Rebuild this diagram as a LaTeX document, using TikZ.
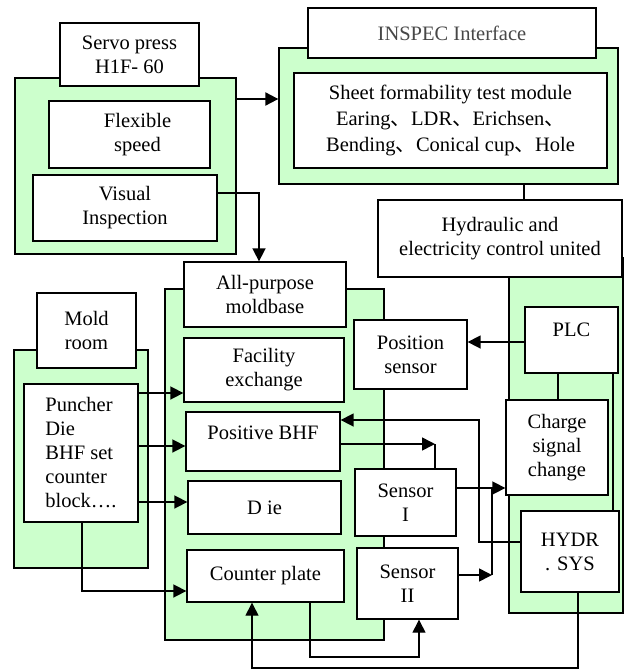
\documentclass[tikz,border=0pt]{standalone}
\usepackage{fontspec}
\setmainfont{Liberation Serif}
\newfontfamily\cjkfont{Noto Sans CJK SC}
\usetikzlibrary{arrows.meta}
\newcommand\dun{{\cjkfont 、}}
\definecolor{panelgreen}{HTML}{CCFFCC}
\tikzset{
  panel/.style={draw, fill=panelgreen, line width=1.3pt, inner sep=0pt},
  box/.style={draw, fill=white, line width=1.3pt, inner sep=0pt, align=center},
  arr/.style={-{Triangle[length=13pt,width=13pt]}, line width=1.6pt},
  link/.style={line width=1.1pt},
}
\begin{document}
\begin{tikzpicture}[x=1pt, y=-1pt, font=\fontsize{20.5}{24}\selectfont]
\useasboundingbox (0,0) rectangle (624,670);
% green panels
\node[panel, minimum width=221pt, minimum height=176pt] (servoG) at (125.5,166) {};
\node[panel, minimum width=339pt, minimum height=136pt] (inspG) at (448.5,116) {};
\node[panel, minimum width=134pt, minimum height=218pt] (moldG) at (81,459) {};
\node[panel, minimum width=219pt, minimum height=351pt] (midG) at (274.5,464.5) {};
\node[panel, minimum width=114pt, minimum height=355pt] (rightG) at (566,435.5) {};
% white boxes
\node[box, minimum width=139pt, minimum height=63pt] (servoT) at (129.5,54.5) {Servo press\\H1F- 60};
\node[box, minimum width=161pt, minimum height=67pt] (flex) at (129.5,134.5) {\hspace*{16pt}Flexible\\\hspace*{16pt}speed};
\node[box, minimum width=184pt, minimum height=66pt] (visual) at (125,208) {Visual\\Inspection};
\node[box, minimum width=288pt, minimum height=50pt, text=black!72] (inspT) at (452,33) {INSPEC Interface};
\node[box, minimum width=313pt, minimum height=95pt, font=\fontsize{20.5}{26}\selectfont] (sheet) at (450.5,120.5)
  {Sheet formability test module\\Earing\dun LDR\dun Erichsen\dun\\Bending\dun Conical cup\dun Hole};
\node[box, minimum width=244pt, minimum height=77pt] (hyd) at (500,238.5) {Hydraulic and\\electricity control united};
\node[box, minimum width=162pt, minimum height=65pt] (allp) at (265,294.5) {All-purpose\\moldbase};
\node[box, minimum width=160pt, minimum height=64pt] (fac) at (264,370) {Facility\\exchange};
\node[box, minimum width=154pt, minimum height=59pt, text depth=17pt] (pbhf) at (263,441.5) {Positive BHF};
\node[box, minimum width=153pt, minimum height=53pt] (die) at (264.5,507.5) {D ie};
\node[box, minimum width=157pt, minimum height=52pt] (cplate) at (265.5,576) {Counter plate};
\node[box, minimum width=113pt, minimum height=69pt] (possens) at (410.5,354.5) {Position\\sensor};
\node[box, minimum width=101pt, minimum height=67pt] (s1) at (405.5,502.5) {Sensor\\I};
\node[box, minimum width=101pt, minimum height=71pt] (s2) at (407.5,583.5) {Sensor\\II};
\node[box, minimum width=99pt, minimum height=75pt] (moldT) at (86.5,330.5) {Mold\\room};
\node[box, minimum width=114pt, minimum height=138pt, align=left] (punch) at (81,453) {Puncher\\Die\\BHF set\\counter\\block….};
\node[box, minimum width=93pt, minimum height=66pt, text depth=20pt] (plc) at (571.5,340) {PLC};
\node[box, minimum width=102pt, minimum height=95pt] (charge) at (557,447.5) {Charge\\signal\\change};
\node[box, minimum width=98pt, minimum height=81pt] (hydr) at (570,551.5) {HYDR\\. SYS};
% helper coordinates
\coordinate (h1) at (0,99);
\coordinate (v1) at (259,193);
\coordinate (c1) at (524,0);
\coordinate (h2) at (0,342);
\coordinate (c2) at (558,0);
\coordinate (c3) at (613,0);
\coordinate (k1) at (479,542);
\coordinate (k2) at (479,420);
\coordinate (p1) at (435,444);
\coordinate (h3) at (0,488);
\coordinate (p2) at (492,575);
\coordinate (p3) at (492,488);
\coordinate (q1) at (310,657);
\coordinate (q2) at (419,657);
\coordinate (r1) at (578,668);
\coordinate (r2) at (252,668);
\coordinate (h4) at (0,393);
\coordinate (h5) at (0,446);
\coordinate (h6) at (0,502);
\coordinate (m1) at (82,591);
% connectors
\draw[arr, line width=2pt] (servoG.east |- h1) -- (inspG.west |- h1);
\draw[arr] (visual.east |- v1) -- (v1) -- (allp.north -| v1);
\draw[link] (inspG.south -| c1) -- (hyd.north -| c1);
\draw[arr] (plc.west |- h2) -- (possens.east |- h2);
\draw[link] (plc.south -| c2) -- (charge.north -| c2);
\draw[link] (plc.south -| c3) -- (hydr.north -| c3);
\draw[arr] (hydr.west |- k1) -- (k1) -- (k2) -- (pbhf.east |- k2);
\draw[arr] (pbhf.east |- p1) -- (p1);
\draw[link] (p1) -- (s1.north -| p1);
\draw[arr] (s1.east |- h3) -- (charge.west |- h3);
\draw[arr] (s2.east |- p2) -- (p2);
\draw[link, line width=1.4pt] (p2) -- (p3);
\draw[arr, line width=1.1pt] (cplate.south -| q1) -- (q1) -- (q2) -- (s2.south -| q2);
\draw[arr, line width=1.1pt] (hydr.south -| r1) -- (r1) -- (r2) -- (cplate.south -| r2);
\draw[arr] (punch.east |- h4) -- (fac.west |- h4);
\draw[arr] (punch.east |- h5) -- (pbhf.west |- h5);
\draw[arr] (punch.east |- h6) -- (die.west |- h6);
\draw[arr] (punch.south -| m1) -- (m1) -- (cplate.west |- m1);
\end{tikzpicture}
\end{document}
